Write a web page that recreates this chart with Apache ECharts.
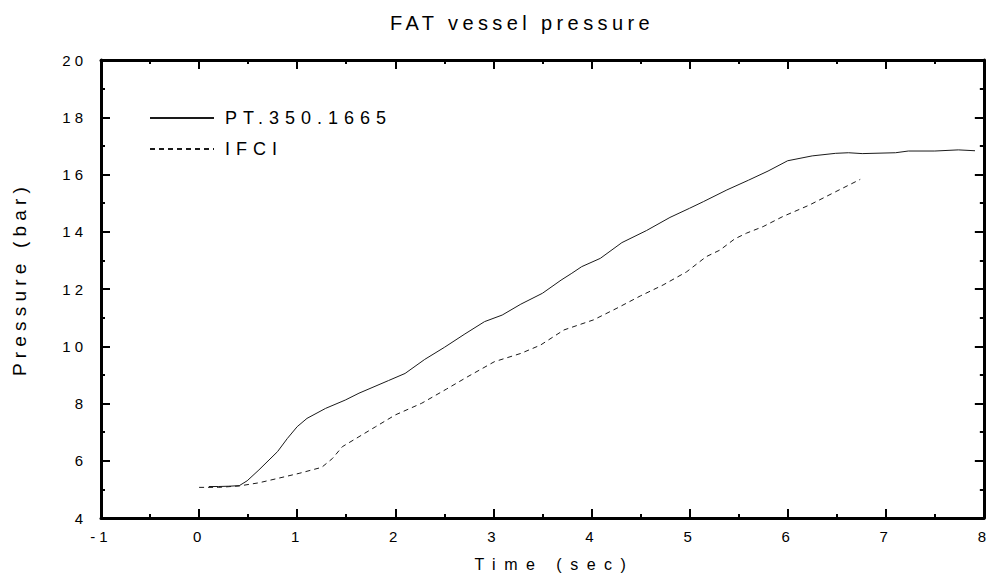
<!DOCTYPE html>
<html>
<head>
<meta charset="utf-8">
<title>FAT vessel pressure</title>
<script src="https://cdn.jsdelivr.net/npm/echarts@6/dist/echarts.min.js"></script>
<style>
    html, body { margin: 0; padding: 0; background: #fff; }
    #chart { width: 991px; height: 577px; }
    /* the original plot uses widely spaced lettering */
    #chart text[style*="20px"] { letter-spacing: 4.4px; }
    #chart text[style*="18px"] { letter-spacing: 6px; }
    #chart text[style*="19px"] { letter-spacing: 5.2px; }
    #chart text[style*="16px"] { letter-spacing: 8.5px; }
    #chart text[style*="15px"] { letter-spacing: 4px; }
</style>
</head>
<body>
<div id="chart"></div>
<script>
// PT.350.1665 (measured)
const ptTime = [0.1, 0.2, 0.3, 0.41, 0.49, 0.61, 0.8, 0.9, 1.0, 1.1, 1.29, 1.49, 1.63, 1.93, 2.1, 2.3, 2.5, 2.71, 2.91, 3.09, 3.28, 3.5, 3.69, 3.8, 3.9, 4.09, 4.31, 4.56, 4.8, 5.0, 5.14, 5.38, 5.6, 5.8, 6.0, 6.25, 6.49, 6.62, 6.76, 7.1, 7.23, 7.5, 7.74, 7.91];
const ptPressure = [5.1, 5.1, 5.11, 5.13, 5.3, 5.68, 6.32, 6.78, 7.19, 7.48, 7.83, 8.12, 8.36, 8.8, 9.05, 9.54, 9.96, 10.43, 10.86, 11.09, 11.47, 11.85, 12.31, 12.55, 12.78, 13.07, 13.62, 14.04, 14.5, 14.82, 15.05, 15.46, 15.8, 16.12, 16.48, 16.65, 16.74, 16.76, 16.73, 16.76, 16.82, 16.82, 16.86, 16.83];

// IFCI (calculated)
const ifciTime = [0, 0.2, 0.41, 0.61, 0.81, 1.02, 1.25, 1.36, 1.46, 1.63, 1.8, 2.0, 2.27, 2.52, 2.74, 3.01, 3.28, 3.48, 3.72, 4.02, 4.26, 4.5, 4.73, 4.97, 5.17, 5.31, 5.46, 5.58, 5.75, 5.95, 6.22, 6.49, 6.74];
const ifciPressure = [5.07, 5.07, 5.12, 5.23, 5.39, 5.56, 5.77, 6.08, 6.49, 6.84, 7.19, 7.6, 8.01, 8.5, 8.94, 9.46, 9.75, 10.04, 10.57, 10.92, 11.33, 11.76, 12.14, 12.6, 13.13, 13.36, 13.75, 13.95, 14.18, 14.53, 14.93, 15.4, 15.83];

const xMin = -1, xMax = 8, xStep = 1;
const yMin = 4, yMax = 20, yStep = 2;

const font = 'Liberation Sans, Arial, sans-serif';
const ink = '#000';

function pairs(xs, ys) {
    return xs.map((x, i) => [x, ys[i]]);
}

function frameAxis(extra) {
    return Object.assign({
        type: 'value',
        axisLine: { show: true, onZero: false, lineStyle: { color: ink, width: 3 } },
        axisTick: { show: true, inside: true, length: 9, lineStyle: { color: ink, width: 2 } },
        minorTick: { show: true, splitNumber: 2, length: 4, lineStyle: { color: ink, width: 2 } },
        splitLine: { show: false },
        minorSplitLine: { show: false }
    }, extra);
}

const myChart = echarts.init(document.getElementById('chart'), null, { renderer: 'svg' });

myChart.setOption({
    animation: false,
    backgroundColor: '#fff',
    title: {
        text: 'FAT vessel pressure',
        left: 385,
        top: 8,
        textStyle: { fontFamily: font, fontSize: 20, fontWeight: 'normal', color: ink }
    },
    legend: {
        orient: 'vertical',
        left: 149,
        top: 109,
        padding: 0,
        itemWidth: 64,
        itemHeight: 14,
        itemGap: 13,
        data: ['PT.350.1665', 'IFCI'],
        itemStyle: { opacity: 0 },
        textStyle: { fontFamily: font, fontSize: 18, lineHeight: 18, color: ink, padding: [0, 0, 0, 6] }
    },
    grid: { left: 101, right: 2, top: 60, bottom: 59 },
    xAxis: [
        frameAxis({
            position: 'bottom',
            min: xMin, max: xMax, interval: xStep,
            name: 'Time (sec)',
            nameLocation: 'middle',
            nameGap: 38,
            nameTextStyle: { fontFamily: font, fontSize: 16, lineHeight: 16, color: ink, padding: [0, 0, 0, 24] },
            axisLabel: { fontFamily: font, fontSize: 15, lineHeight: 15, color: ink, margin: 11 }
        }),
        frameAxis({
            position: 'top',
            min: xMin, max: xMax, interval: xStep,
            axisLabel: { show: false }
        })
    ],
    yAxis: [
        frameAxis({
            position: 'left',
            min: yMin, max: yMax, interval: yStep,
            name: 'Pressure (bar)',
            nameLocation: 'middle',
            nameGap: 72,
            nameTextStyle: { fontFamily: font, fontSize: 19, lineHeight: 19, color: ink, padding: [0, 0, 0, 20] },
            axisLabel: { fontFamily: font, fontSize: 15, color: ink, margin: 14 }
        }),
        frameAxis({
            position: 'right',
            min: yMin, max: yMax, interval: yStep,
            axisLabel: { show: false }
        })
    ],
    series: [
        {
            name: 'PT.350.1665',
            type: 'line',
            xAxisIndex: 0,
            yAxisIndex: 0,
            symbol: 'none',
            lineStyle: { color: '#1a1a1a', width: 1 },
            itemStyle: { color: '#1a1a1a' },
            data: pairs(ptTime, ptPressure)
        },
        {
            name: 'IFCI',
            type: 'line',
            xAxisIndex: 0,
            yAxisIndex: 0,
            symbol: 'none',
            lineStyle: { color: '#1a1a1a', width: 1, type: [5, 4] },
            itemStyle: { color: '#1a1a1a' },
            data: pairs(ifciTime, ifciPressure)
        }
    ]
});
</script>
</body>
</html>
